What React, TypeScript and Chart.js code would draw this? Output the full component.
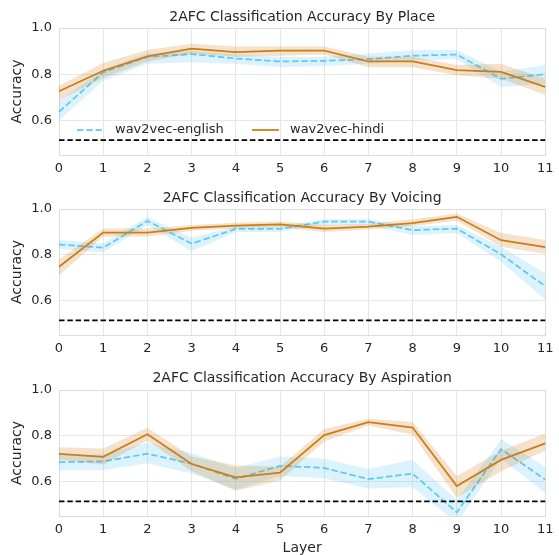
import React, { useEffect, useRef } from 'react';
import { Chart, registerables } from 'chart.js';

Chart.register(...registerables);

const FONT = "'DejaVu Sans', 'Liberation Sans', sans-serif";
const TEXT = '#262626';
const GRID = '#e6e6e6';
const ORANGE = 'rgb(204,125,22)';
const ORANGE_BAND = 'rgba(204,125,22,0.22)';
const BLUE = 'rgb(95,200,245)';
const BLUE_BAND = 'rgba(95,200,245,0.22)';

const layers = ['0', '1', '2', '3', '4', '5', '6', '7', '8', '9', '10', '11'];
const yTicks = [0.6, 0.8, 1.0];
const chanceLevel = 0.514;
const seriesNames = ['wav2vec-english', 'wav2vec-hindi'];

// By Place
const placeEnglish = [0.637, 0.808, 0.875, 0.887, 0.868, 0.855, 0.858, 0.865, 0.880, 0.885, 0.780, 0.800];
const placeEnglishLo = [0.600, 0.770, 0.845, 0.852, 0.845, 0.830, 0.835, 0.845, 0.860, 0.865, 0.745, 0.760];
const placeEnglishHi = [0.685, 0.820, 0.890, 0.900, 0.885, 0.875, 0.875, 0.890, 0.905, 0.905, 0.810, 0.840];
const placeHindi = [0.726, 0.815, 0.877, 0.911, 0.895, 0.902, 0.902, 0.855, 0.855, 0.818, 0.810, 0.745];
const placeHindiLo = [0.688, 0.784, 0.855, 0.888, 0.875, 0.880, 0.885, 0.830, 0.830, 0.795, 0.780, 0.710];
const placeHindiHi = [0.750, 0.848, 0.905, 0.932, 0.920, 0.920, 0.920, 0.875, 0.875, 0.840, 0.845, 0.780];

// By Voicing
const voicingEnglish = [0.845, 0.831, 0.948, 0.849, 0.913, 0.913, 0.945, 0.945, 0.908, 0.914, 0.802, 0.663];
const voicingEnglishLo = [0.825, 0.810, 0.930, 0.815, 0.900, 0.900, 0.930, 0.930, 0.885, 0.895, 0.770, 0.605];
const voicingEnglishHi = [0.865, 0.850, 0.965, 0.875, 0.925, 0.925, 0.955, 0.955, 0.925, 0.930, 0.835, 0.720];
const voicingHindi = [0.748, 0.897, 0.897, 0.918, 0.927, 0.933, 0.914, 0.923, 0.938, 0.966, 0.864, 0.834];
const voicingHindiLo = [0.710, 0.880, 0.880, 0.905, 0.915, 0.920, 0.900, 0.910, 0.925, 0.950, 0.835, 0.805];
const voicingHindiHi = [0.780, 0.915, 0.915, 0.930, 0.940, 0.945, 0.930, 0.935, 0.955, 0.980, 0.895, 0.865];

// By Aspiration
const aspEnglish = [0.685, 0.688, 0.722, 0.678, 0.612, 0.669, 0.660, 0.611, 0.635, 0.466, 0.742, 0.609];
const aspEnglishLo = [0.650, 0.650, 0.680, 0.635, 0.565, 0.625, 0.615, 0.570, 0.575, 0.420, 0.700, 0.550];
const aspEnglishHi = [0.715, 0.720, 0.770, 0.725, 0.660, 0.710, 0.700, 0.655, 0.695, 0.520, 0.785, 0.665];
const aspHindi = [0.721, 0.708, 0.807, 0.677, 0.619, 0.639, 0.803, 0.860, 0.836, 0.581, 0.695, 0.767];
const aspHindiLo = [0.695, 0.675, 0.780, 0.645, 0.560, 0.605, 0.775, 0.845, 0.805, 0.530, 0.645, 0.735];
const aspHindiHi = [0.750, 0.745, 0.835, 0.710, 0.670, 0.665, 0.830, 0.875, 0.860, 0.625, 0.735, 0.810];

const borderPlugin = {
  id: 'areaBorder',
  beforeDatasetsDraw(chart: any) {
    const { ctx, chartArea: a } = chart;
    ctx.save();
    ctx.strokeStyle = '#dcdcdc';
    ctx.lineWidth = 1;
    ctx.strokeRect(Math.round(a.left) + 0.5, Math.round(a.top) + 0.5, Math.round(a.right - a.left), Math.round(a.bottom - a.top));
    ctx.restore();
  },
};

const insideLegendPlugin = {
  id: 'insideLegend',
  afterDatasetsDraw(chart: any) {
    const { ctx, chartArea: a } = chart;
    const y = 130;
    const items = [
      { name: seriesNames[0], color: BLUE, dash: [6.5, 2.8], x0: 18, x1: 43, tx: 56 },
      { name: seriesNames[1], color: ORANGE, dash: [], x0: 193, x1: 220, tx: 231 },
    ];
    ctx.save();
    for (const it of items) {
      ctx.beginPath();
      ctx.setLineDash(it.dash);
      ctx.strokeStyle = it.color;
      ctx.lineWidth = 1.75;
      ctx.moveTo(a.left + it.x0, y);
      ctx.lineTo(a.left + it.x1, y);
      ctx.stroke();
      ctx.setLineDash([]);
      ctx.fillStyle = TEXT;
      ctx.font = `13px ${FONT}`;
      ctx.textBaseline = 'middle';
      ctx.textAlign = 'left';
      ctx.fillText(it.name, a.left + it.tx, y);
    }
    ctx.restore();
  },
};

type PanelSpec = {
  title: string;
  eng: number[];
  engLo: number[];
  engHi: number[];
  hin: number[];
  hinLo: number[];
  hinHi: number[];
  titleTop: number;
  titleHeight: number;
  xHeight: number;
  showLegend: boolean;
  showXTitle: boolean;
};

function buildConfig(p: PanelSpec): any {
  const band = (data: number[], fill: any, color: string, order: number) => ({
    data,
    borderWidth: 0,
    pointRadius: 0,
    borderColor: 'transparent',
    backgroundColor: color,
    fill,
    order,
  });
  return {
    type: 'line',
    data: {
      labels: layers,
      datasets: [
        band(p.engLo, false, BLUE_BAND, 5),
        band(p.engHi, '-1', BLUE_BAND, 5),
        {
          data: p.eng,
          borderColor: BLUE,
          borderWidth: 1.75,
          borderDash: [6.5, 2.8],
          pointRadius: 0,
          fill: false,
          order: 4,
        },
        band(p.hinLo, false, ORANGE_BAND, 3),
        band(p.hinHi, '-1', ORANGE_BAND, 3),
        {
          data: p.hin,
          borderColor: ORANGE,
          borderWidth: 1.75,
          pointRadius: 0,
          fill: false,
          order: 2,
        },
        {
          data: layers.map(() => chanceLevel),
          borderColor: '#000000',
          borderWidth: 1.75,
          borderDash: [5.5, 2.8],
          pointRadius: 0,
          fill: false,
          order: 1,
        },
      ],
    },
    options: {
      responsive: false,
      animation: false,
      events: [],
      layout: { padding: { left: 0, right: 10, top: 0, bottom: 0 } },
      plugins: {
        legend: { display: false },
        tooltip: { enabled: false },
        title: {
          display: true,
          fullSize: false,
          text: p.title,
          color: TEXT,
          font: { family: FONT, size: 14, weight: 'normal' },
          padding: { top: p.titleTop, bottom: p.titleHeight - p.titleTop - 16.8 },
        },
      },
      scales: {
        x: {
          type: 'category',
          offset: false,
          grid: { color: GRID, drawTicks: false, lineWidth: 1 },
          border: { display: false },
          ticks: {
            color: TEXT,
            font: { family: FONT, size: 13 },
            padding: 5.5,
            maxRotation: 0,
            autoSkip: false,
          },
          title: {
            display: p.showXTitle,
            text: 'Layer',
            color: TEXT,
            font: { family: FONT, size: 14 },
            padding: { top: 0, bottom: 3.6 },
          },
          afterFit: (s: any) => {
            s.height = p.xHeight;
          },
        },
        y: {
          type: 'linear',
          min: 0.45,
          max: 1.0,
          afterBuildTicks: (s: any) => {
            s.ticks = yTicks.map((v) => ({ value: v }));
          },
          grid: { color: GRID, drawTicks: false, lineWidth: 1 },
          border: { display: false },
          ticks: {
            color: TEXT,
            font: { family: FONT, size: 13 },
            padding: 7,
            callback: (v: any) => Number(v).toFixed(1),
          },
          title: {
            display: true,
            text: 'Accuracy',
            color: TEXT,
            font: { family: FONT, size: 14 },
            padding: { top: 9, bottom: 0 },
          },
          afterFit: (s: any) => {
            s.width = 59;
          },
        },
      },
    },
    plugins: p.showLegend ? [borderPlugin, insideLegendPlugin] : [borderPlugin],
  };
}

const panels: { top: number; height: number; spec: PanelSpec }[] = [
  {
    top: 0,
    height: 180,
    spec: {
      title: '2AFC Classification Accuracy By Place',
      eng: placeEnglish, engLo: placeEnglishLo, engHi: placeEnglishHi,
      hin: placeHindi, hinLo: placeHindiLo, hinHi: placeHindiHi,
      titleTop: 8.5, titleHeight: 28, xHeight: 25, showLegend: true, showXTitle: false,
    },
  },
  {
    top: 180,
    height: 180,
    spec: {
      title: '2AFC Classification Accuracy By Voicing',
      eng: voicingEnglish, engLo: voicingEnglishLo, engHi: voicingEnglishHi,
      hin: voicingHindi, hinLo: voicingHindiLo, hinHi: voicingHindiHi,
      titleTop: 9.5, titleHeight: 29, xHeight: 25, showLegend: false, showXTitle: false,
    },
  },
  {
    top: 360,
    height: 200,
    spec: {
      title: '2AFC Classification Accuracy By Aspiration',
      eng: aspEnglish, engLo: aspEnglishLo, engHi: aspEnglishHi,
      hin: aspHindi, hinLo: aspHindiLo, hinHi: aspHindiHi,
      titleTop: 10, titleHeight: 30, xHeight: 44, showLegend: false, showXTitle: true,
    },
  },
];

function Panel({ top, height, spec }: { top: number; height: number; spec: PanelSpec }) {
  const ref = useRef<HTMLCanvasElement>(null);
  useEffect(() => {
    if (!ref.current) return;
    const chart = new Chart(ref.current, buildConfig(spec));
    return () => chart.destroy();
  }, []);
  return (
    <div style={{ position: 'absolute', left: 0, top, width: 559, height }}>
      <canvas ref={ref} width={559} height={height} style={{ width: 559, height, display: 'block' }} />
    </div>
  );
}

export default function App() {
  return (
    <div style={{ position: 'fixed', left: 0, top: 0, width: 559, height: 555, overflow: 'hidden', background: '#ffffff' }}>
      {panels.map((p, i) => (
        <Panel key={i} top={p.top} height={p.height} spec={p.spec} />
      ))}
    </div>
  );
}
